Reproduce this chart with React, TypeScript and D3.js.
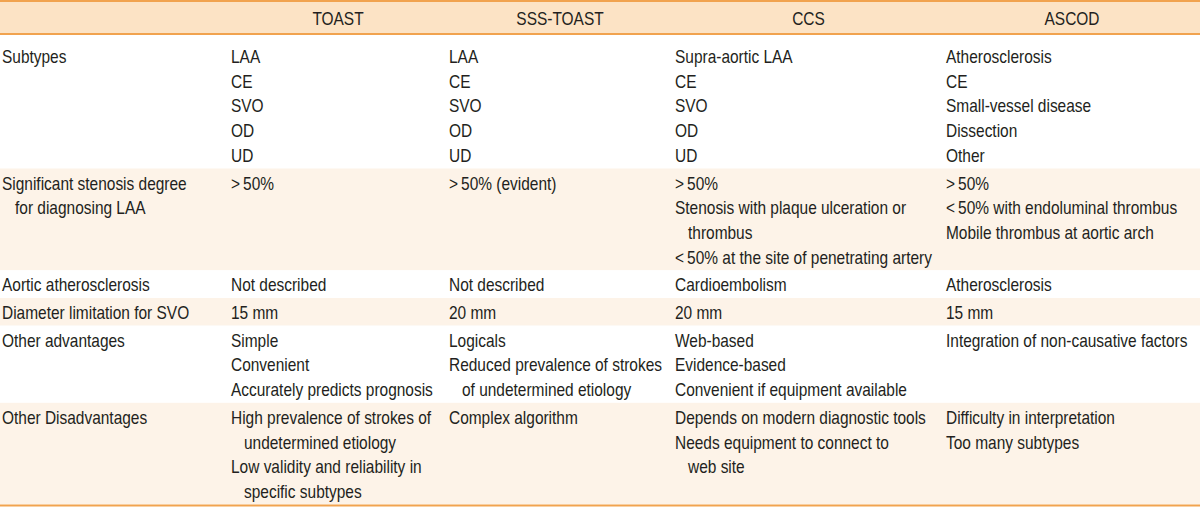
import { useEffect, useRef } from "react";
import * as d3 from "d3";

// column headers (first column is the row label column)
const columnHeaders = ["", "TOAST", "SSS-TOAST", "CCS", "ASCOD"];

// each cell is a list of entries; an entry is either one line or [first line, ...indented continuation lines]
type Entry = string | string[];

const rowLabels: Entry[][] = [
  ["Subtypes"],
  [["Significant stenosis degree", "for diagnosing LAA"]],
  ["Aortic atherosclerosis"],
  ["Diameter limitation for SVO"],
  ["Other advantages"],
  ["Other Disadvantages"],
];

const toastCells: Entry[][] = [
  ["LAA", "CE", "SVO", "OD", "UD"],
  [">\u200950%"],
  ["Not described"],
  ["15 mm"],
  ["Simple", "Convenient", "Accurately predicts prognosis"],
  [
    ["High prevalence of strokes of", "undetermined etiology"],
    ["Low validity and reliability in", "specific subtypes"],
  ],
];

const sssToastCells: Entry[][] = [
  ["LAA", "CE", "SVO", "OD", "UD"],
  [">\u200950% (evident)"],
  ["Not described"],
  ["20 mm"],
  ["Logicals", ["Reduced prevalence of strokes", "of undetermined etiology"]],
  ["Complex algorithm"],
];

const ccsCells: Entry[][] = [
  ["Supra-aortic LAA", "CE", "SVO", "OD", "UD"],
  [
    ">\u200950%",
    ["Stenosis with plaque ulceration or", "thrombus"],
    "<\u200950% at the site of penetrating artery",
  ],
  ["Cardioembolism"],
  ["20 mm"],
  ["Web-based", "Evidence-based", "Convenient if equipment available"],
  ["Depends on modern diagnostic tools", ["Needs equipment to connect to", "web site"]],
];

const ascodCells: Entry[][] = [
  ["Atherosclerosis", "CE", "Small-vessel disease", "Dissection", "Other"],
  [">\u200950%", "<\u200950% with endoluminal thrombus", "Mobile thrombus at aortic arch"],
  ["Atherosclerosis"],
  ["15 mm"],
  ["Integration of non-causative factors"],
  ["Difficulty in interpretation", "Too many subtypes"],
];

const W = 1200;
const H = 513;
const FONT = "'Liberation Sans', Arial, sans-serif";
const FONT_SIZE = 18;
const LINE_H = 24.7;

const flatten = (cell: Entry[]) =>
  cell.flatMap((e) =>
    typeof e === "string"
      ? [{ text: e, indent: false }]
      : e.map((t, i) => ({ text: t, indent: i > 0 }))
  );

export default function App() {
  const svgRef = useRef<SVGSVGElement>(null);

  useEffect(() => {
    document.body.style.margin = "0";
    if (!svgRef.current) return;
    const svg = d3.select(svgRef.current);
    svg.selectAll("*").remove();

    // the source uses a condensed face: squeeze a regular one horizontally
    const probe = svg.append("text")
      .attr("font-family", FONT)
      .attr("font-size", FONT_SIZE)
      .text("Accurately predicts prognosis");
    const sx = 202 / ((probe.node() as SVGTextElement).getComputedTextLength() || 250);
    probe.remove();

    const columns = [rowLabels, toastCells, sssToastCells, ccsCells, ascodCells];
    const nRows = rowLabels.length;

    // column edges
    const x = d3.scaleOrdinal<number, number>()
      .domain(d3.range(columnHeaders.length))
      .range([0, 229, 447, 673, 944]);
    const colRight = (c: number) => (c < columnHeaders.length - 1 ? x(c + 1) : W);

    const headerTop = 1;
    const headerBottom = 34;
    const firstGap = 7;

    const lineCounts = d3.range(nRows).map((r) =>
      d3.max(columns, (col) => flatten(col[r]).length) as number
    );
    const heights = lineCounts.map((n, r) => n * LINE_H + 3 + (r === 0 ? firstGap : 0));
    const tops = [headerBottom + 1, ...Array.from(d3.cumsum(heights)).map((h) => headerBottom + 1 + h)];

    // row backgrounds
    svg.append("g")
      .selectAll("rect")
      .data(d3.range(nRows))
      .join("rect")
      .attr("x", 0)
      .attr("y", (r) => tops[r])
      .attr("width", W)
      .attr("height", (r) => heights[r])
      .attr("fill", (r) => (r % 2 === 1 ? "#fdf3e8" : "#ffffff"));

    // header
    svg.append("rect")
      .attr("x", 0).attr("y", headerTop)
      .attr("width", W).attr("height", headerBottom - headerTop)
      .attr("fill", "#fce3c5");

    const lines = svg.append("g").attr("stroke", "#f1a34f").attr("stroke-width", 2);
    [headerTop, headerBottom, tops[nRows] + 1].forEach((yy) => {
      lines.append("line").attr("x1", 0).attr("x2", W).attr("y1", yy).attr("y2", yy);
    });

    svg.append("g")
      .selectAll("text")
      .data(columnHeaders.map((h, c) => ({ h, c })).filter((d) => d.h))
      .join("text")
      .attr("transform", (d) => `translate(${(x(d.c) + colRight(d.c)) / 2},25) scale(${sx},1)`)
      .attr("text-anchor", "middle")
      .attr("font-family", FONT)
      .attr("font-size", FONT_SIZE)
      .attr("fill", "#231f20")
      .text((d) => d.h);

    // body text
    const body = svg.append("g")
      .attr("font-family", FONT)
      .attr("font-size", FONT_SIZE)
      .attr("fill", "#231f20");

    columns.forEach((col, c) => {
      col.forEach((cell, r) => {
        const ls = flatten(cell);
        const base = tops[r] + (r === 0 ? firstGap : 0) + 21;
        body.selectAll(null)
          .data(ls)
          .enter()
          .append("text")
          .attr("transform", (d, i) =>
            `translate(${x(c) + 2 + (d.indent ? 13 : 0)},${base + i * LINE_H}) scale(${sx},1)`)
          .text((d) => d.text);
      });
    });
  }, []);

  return <svg ref={svgRef} width={W} height={H} style={{ display: "block", background: "#fff" }} />;
}
